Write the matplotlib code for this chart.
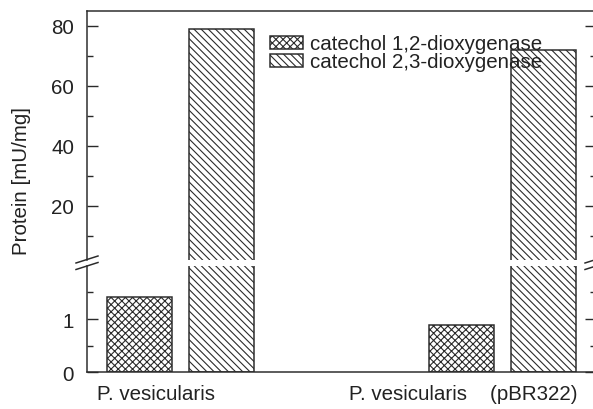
import numpy as np
import matplotlib
matplotlib.use("Agg")
from matplotlib import pyplot as plt
from matplotlib.lines import Line2D

DPI = 86
W, H = 593, 410


def pt(px):
    # pixel size -> points at the figure dpi
    return px * 72 / DPI


plt.rcParams["font.family"] = ["Liberation Sans", "DejaVu Sans"]
plt.rcParams["font.size"] = pt(20.5)
plt.rcParams["hatch.linewidth"] = pt(1.1)
plt.rcParams["hatch.color"] = "#2a2a2a"

groups = ["P. vesicularis", "P. vesicularis    (pBR322)"]
enzymes = ["catechol 1,2-dioxygenase", "catechol 2,3-dioxygenase"]
c12 = [1.42, 0.89]
c23 = [79, 72]
label_pos = [-0.076, 0.877]

ink = "#2a2a2a"
txt = "#222222"
fig = plt.figure(figsize=(W / DPI, H / DPI), dpi=DPI)

left, right = 87 / W, 596 / W
ax_top = fig.add_axes([left, 1 - 261 / H, right - left, (261 - 11.7) / H])
ax_bot = fig.add_axes([left, 1 - 373.3 / H, right - left, (373.3 - 266.7) / H])

x = np.arange(len(groups))
width = 0.2
off = 0.127
for ax in (ax_top, ax_bot):
    ax.bar(x - off, c12, width, color="white", edgecolor=ink, linewidth=pt(1.5),
           hatch="xxxx", label=enzymes[0])
    ax.bar(x + off, c23, width, color="white", edgecolor=ink, linewidth=pt(1.5),
           hatch="\\\\\\\\", label=enzymes[1])
    ax.set_xlim(-0.29, 1.29)
    for s in ax.spines.values():
        s.set_color(ink)
        s.set_linewidth(pt(1.5))
    ax.tick_params(axis="y", which="both", direction="in", left=True, right=True,
                   colors=ink, labelcolor=txt, pad=pt(13), width=pt(1.4))
    ax.tick_params(axis="y", which="major", length=pt(11))
    ax.tick_params(axis="y", which="minor", length=pt(6))

ax_top.set_ylim(2, 85)
ax_top.set_yticks([20, 40, 60, 80])
ax_top.set_yticks([10, 30, 50, 70], minor=True)
ax_top.spines["bottom"].set_visible(False)
ax_top.tick_params(axis="x", bottom=False, labelbottom=False)

ax_bot.set_ylim(0, 2)
ax_bot.set_yticks([0, 1])
ax_bot.set_yticks([0.5, 1.5], minor=True)
ax_bot.spines["top"].set_visible(False)
ax_bot.set_xticks(label_pos)
ax_bot.set_xticklabels(groups, color=txt)
ax_bot.tick_params(axis="x", length=0, pad=pt(12))

# break marks on both y axes
for xc in (87, 596):
    for y0 in (260.5, 267.0):
        fig.add_artist(Line2D([(xc - 11) / W, (xc + 11) / W],
                              [1 - (y0 + 3.5) / H, 1 - (y0 - 3.5) / H],
                              color=ink, linewidth=pt(1.5)))

fig.text(22 / W, 1 - 181 / H, "Protein [mU/mg]", rotation=90, ha="center",
         va="center", color=txt)

leg = ax_top.legend(loc="upper left", bbox_to_anchor=(0.36, 0.905), frameon=False,
                    borderpad=0, borderaxespad=0, handlelength=1.6,
                    handleheight=0.6, handletextpad=0.35, labelspacing=-0.05)
for t in leg.get_texts():
    t.set_color(txt)

fig.savefig("out.png", dpi=DPI)
